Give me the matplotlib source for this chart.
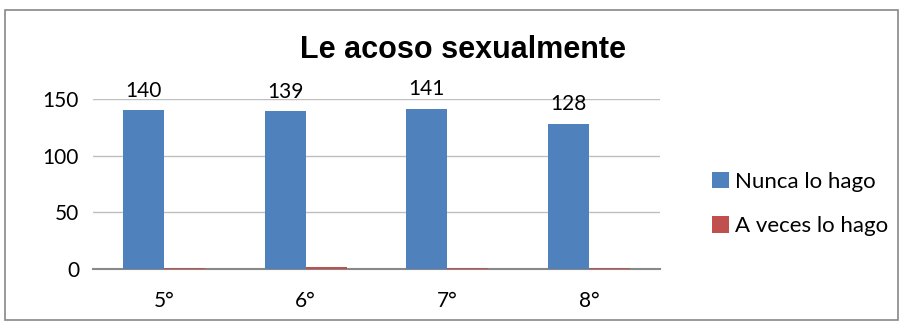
import matplotlib
matplotlib.use("Agg")
import matplotlib.pyplot as plt
import numpy as np
from matplotlib.patches import Rectangle

categories = ["5°", "6°", "7°", "8°"]
nunca = [140, 139, 141, 128]
a_veces = [1, 2, 1, 1]
series_names = ["Nunca lo hago", "A veces lo hago"]
title = "Le acoso sexualmente"

blue = "#4F81BD"
red = "#C0504D"

body = "Lato"

fig = plt.figure(figsize=(9.03, 3.29), dpi=100)
fig.patches.append(Rectangle((5/903, 1 - 320/329), 893/903, 310/329, transform=fig.transFigure,
                             fill=False, edgecolor="#888888", linewidth=1.2))
ax = fig.add_axes([93/903, 1 - 269/329, 567/903, 170/329])
x = np.arange(len(categories))
w = 0.29
b1 = ax.bar(x - w/2, nunca, w, color=blue, label=series_names[0], zorder=5)
b2 = ax.bar(x + w/2, a_veces, w, color=red, label=series_names[1], zorder=5)
for xi, v in zip(x - w/2, nunca):
    ax.annotate(str(v), (xi, v), xytext=(0, 7), textcoords="offset points",
                ha="center", va="bottom", fontsize=15, family=body)
ax.set_xlim(-0.5, len(categories) - 0.5)
ax.set_ylim(0, 150)
ax.set_yticks([0, 50, 100, 150])
ax.set_xticks(x)
ax.set_xticklabels(categories, family=body, fontsize=15)
for lab in ax.get_yticklabels():
    lab.set_family(body); lab.set_fontsize(15)
ax.tick_params(axis="y", length=0, pad=10)
ax.tick_params(axis="x", length=0, pad=16)
ax.grid(axis="y", color="#BFBFBF", linewidth=1, zorder=0)
for s in ["top", "right", "left"]:
    ax.spines[s].set_visible(False)
ax.spines["bottom"].set_color("#888888")
ax.spines["bottom"].set_linewidth(1.5)
ax.spines["bottom"].set_zorder(4)
fig.text(463/903, 1 - 50/329, title, ha="center", va="center", fontsize=22,
         fontweight="bold", family="Liberation Sans")
fig.legend(handles=[b1, b2], labels=series_names, loc="center left",
           bbox_to_anchor=(692/903, 1 - 204/329), frameon=False,
           prop={"family": body, "size": 16}, handlelength=0.75, handleheight=0.75,
           handletextpad=0.3, labelspacing=1.1)
fig.savefig("out.png", dpi=100)
